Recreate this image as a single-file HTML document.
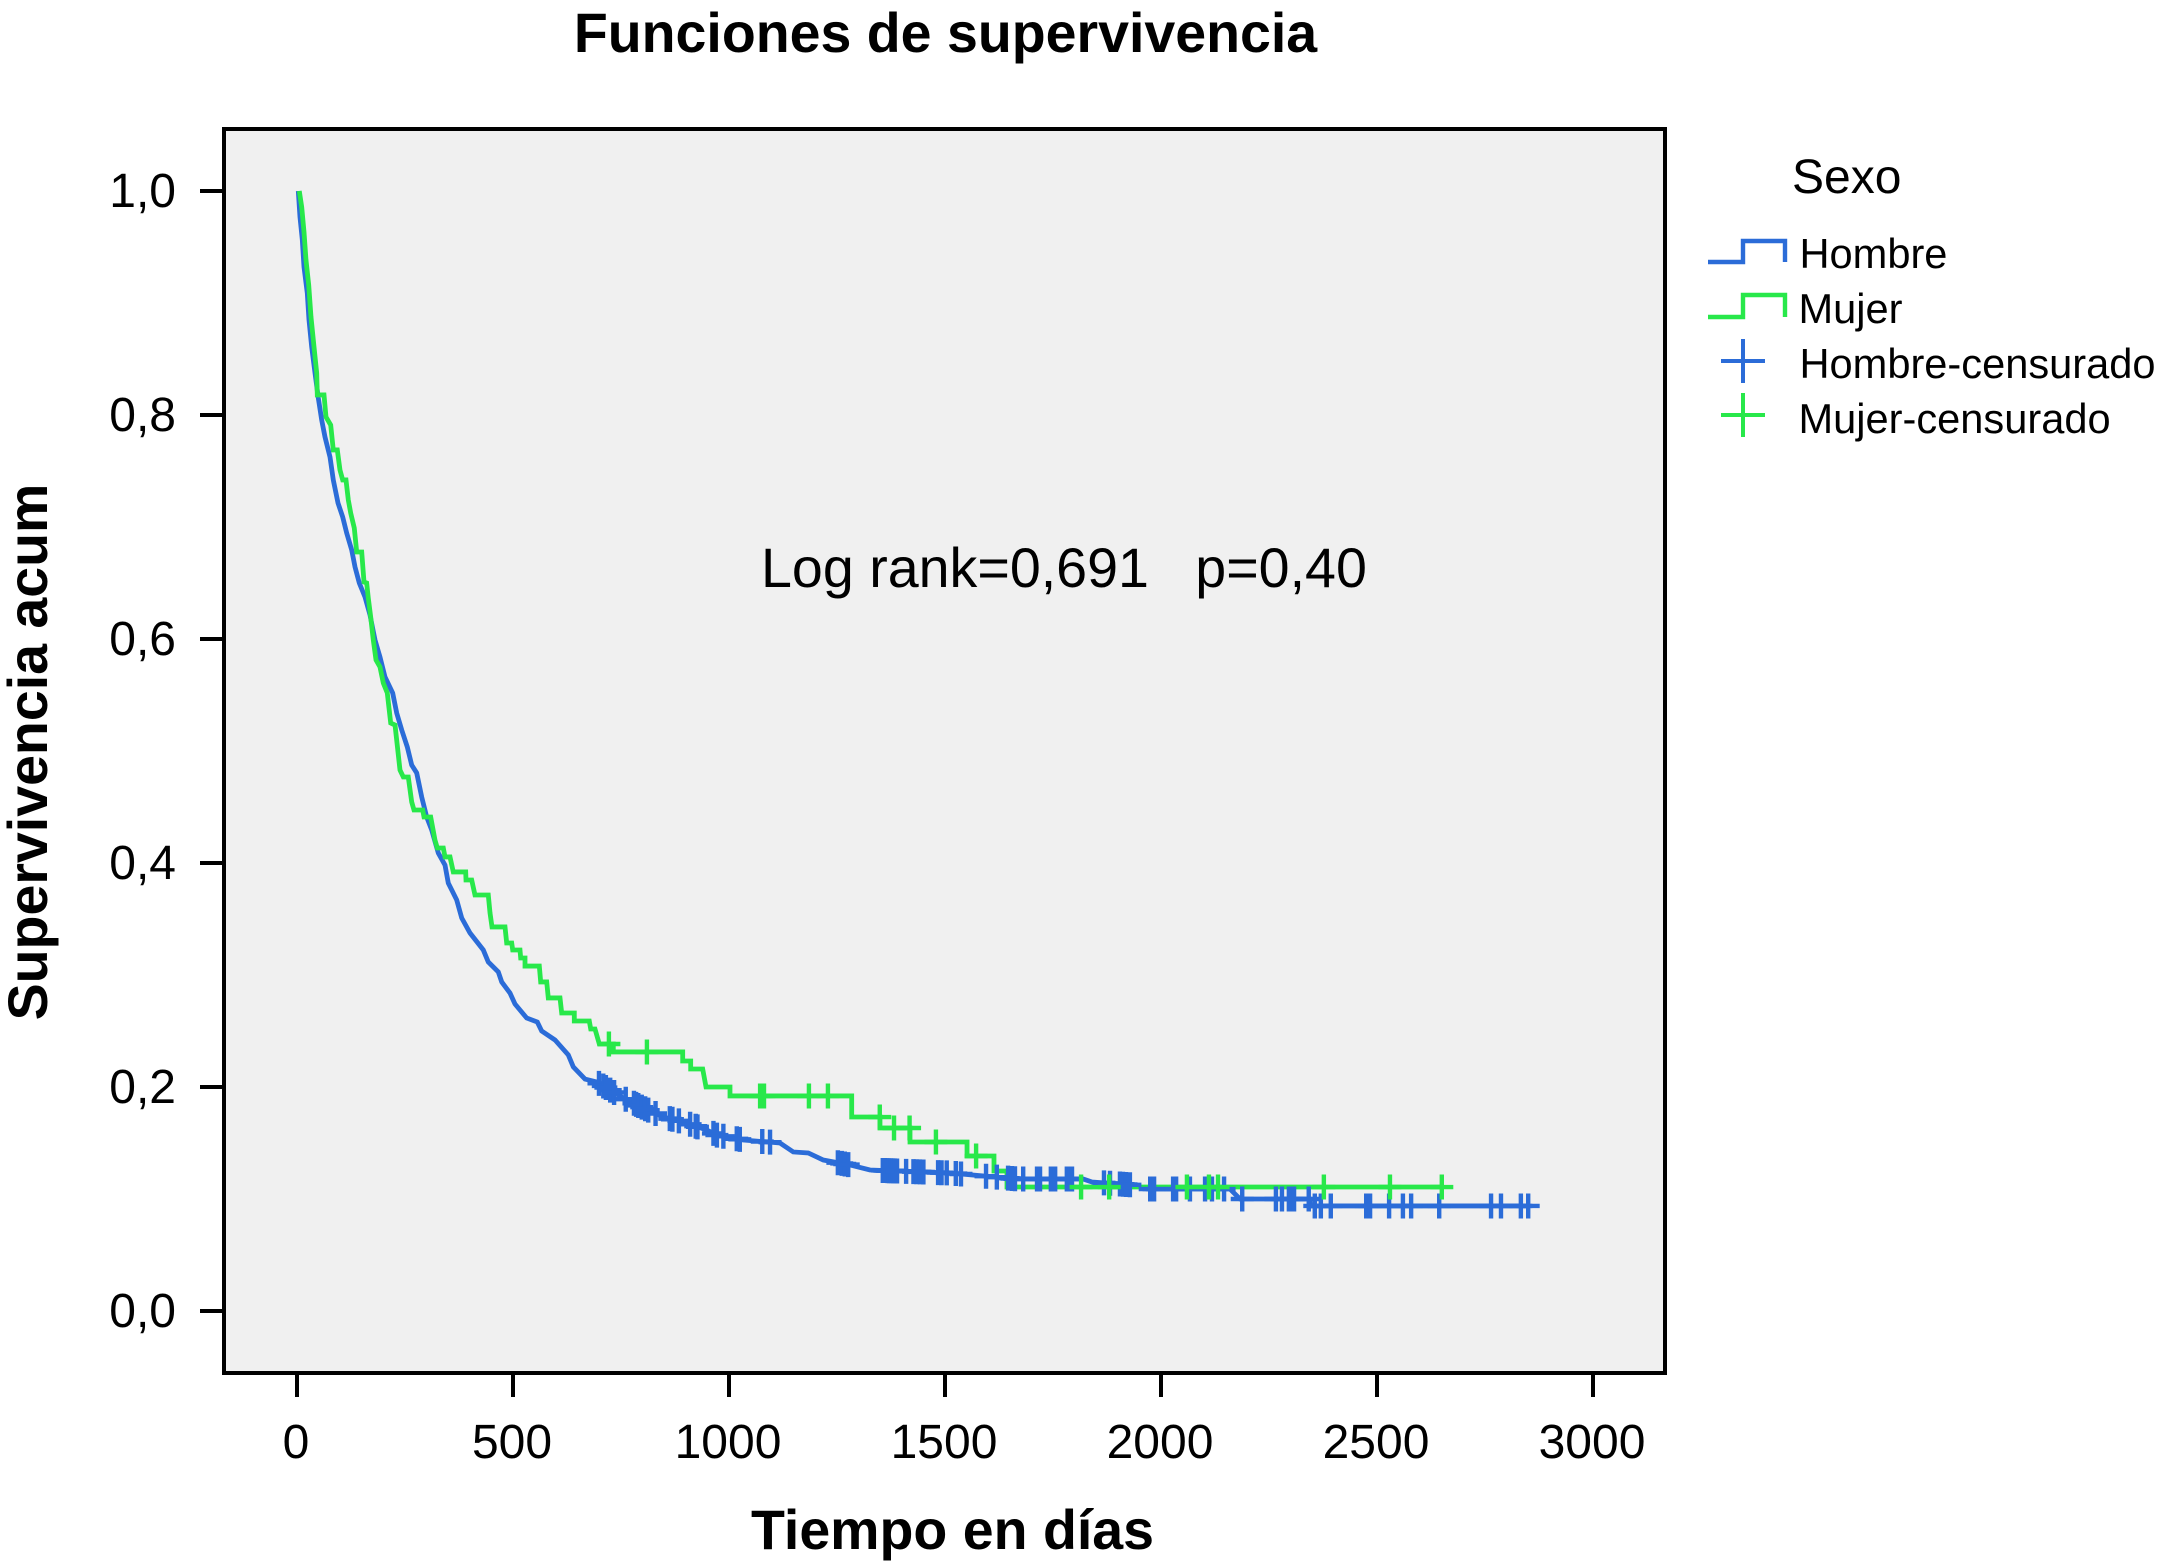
<!DOCTYPE html>
<html lang="es">
<head>
<meta charset="utf-8">
<title>Funciones de supervivencia</title>
<style>
html,body{margin:0;padding:0;background:#fff;}
svg{display:block;}
text{font-family:"Liberation Sans",Arial,sans-serif;fill:#000;white-space:pre;}
</style>
</head>
<body>
<svg id="chart" xmlns="http://www.w3.org/2000/svg" width="2160" height="1562" viewBox="0 0 2160 1562">
  <rect x="0" y="0" width="2160" height="1562" fill="#ffffff"/>
  <text x="945.5" y="52" font-size="55.5" font-weight="bold" text-anchor="middle">Funciones de supervivencia</text>
  <rect x="224" y="129" width="1441" height="1244" fill="#f0f0f0" stroke="#000" stroke-width="4"/>
  <g id="axes"></g>
  <g id="series"></g>
  <text x="761" y="587" font-size="55.6">Log rank=0,691   p=0,40</text>
  <text x="952.5" y="1549" font-size="55.5" font-weight="bold" text-anchor="middle">Tiempo en días</text>
  <text transform="translate(47 752) rotate(-90)" font-size="55.5" font-weight="bold" text-anchor="middle">Supervivencia acum</text>

  <g>
    <text x="1792" y="193" font-size="48">Sexo</text>
    <path d="M1708 262H1743V241H1785V262" fill="none" stroke="#2b6cd8" stroke-width="4.4"/>
    <text x="1799.5" y="268" font-size="41.6">Hombre</text>
    <path d="M1708 317H1743V295H1785V317" fill="none" stroke="#28e84a" stroke-width="4.4"/>
    <text x="1798.5" y="323" font-size="41.6">Mujer</text>
    <path d="M1721 361H1765M1743 339V383" fill="none" stroke="#2b6cd8" stroke-width="4"/>
    <text x="1799.5" y="378" font-size="41.6">Hombre-censurado</text>
    <path d="M1721 415H1765M1743 393V437" fill="none" stroke="#28e84a" stroke-width="4"/>
    <text x="1798.5" y="433" font-size="41.6">Mujer-censurado</text>
  </g>
</svg>
<script>
const xTicks = [0, 500, 1000, 1500, 2000, 2500, 3000];
const yTicks = [0, 0.2, 0.4, 0.6, 0.8, 1.0];
const yTickLabels = ['0,0', '0,2', '0,4', '0,6', '0,8', '1,0'];

const hombreDays = [3,6.9,12.3,16.2,23.8,27.8,34,41.7,49.3,57.2,64.8,76.4,84,94.9,105.8,115,126.6,134.3,144.2,157.4,169,180.6,192.1,203.7,221.5,230.8,242.4,255.3,265.5,277.1,288.7,300.2,311.8,327.1,342.6,350.2,369.7,381.3,400.5,431.3,442.8,466,473.9,493,504.6,531.7,556.3,566.4,597.2,628,639.6,666.7,693.8,724.5,755.3,801.6,847.9,894.2,948.4,971.5,1033.1,1118,1148.8,1183.6,1218.3,1280,1326.4,1511.6,1666.7,1819.4,1840.3,1935.2,1967.6,2159.7,2182.9,2343.8,2347.2,2849.6];
const hombreSurv = [1,0.9768,0.9563,0.9321,0.9089,0.8848,0.8607,0.8375,0.8152,0.7955,0.7804,0.7625,0.742,0.7214,0.7089,0.6946,0.6795,0.6643,0.65,0.6375,0.6214,0.5991,0.5839,0.5661,0.5518,0.5339,0.5188,0.5036,0.4875,0.4804,0.4589,0.4411,0.4295,0.4089,0.3982,0.3821,0.367,0.3509,0.3375,0.3223,0.3116,0.3027,0.2938,0.2839,0.2741,0.2616,0.258,0.25,0.242,0.2286,0.2179,0.2071,0.2045,0.1973,0.1902,0.1813,0.1732,0.1688,0.1616,0.1571,0.1527,0.15,0.142,0.1411,0.1348,0.1304,0.1259,0.1232,0.1179,0.1179,0.1152,0.1125,0.1089,0.1089,0.1,0.1,0.0938,0.0938];

const mujerDays = [5.3,10.9,16.2,20.8,27.1,32.4,39.4,45.6,47,62.5,67.1,78,84,93.3,99.5,105.8,113.4,118.8,124.3,132.6,138.2,149.8,155.1,161.3,165,170.6,176.6,182.9,192.1,199.8,209,216.9,226.9,238.4,246.1,257.6,265.5,270.8,291,294,309.5,319.4,324.8,338.7,342.6,354.2,361.8,390.5,391.2,404.4,412,442.8,446.8,451.4,481.5,485.4,497,499.3,516.2,517.8,527.8,527.8,560.9,564.1,578,581.7,608.8,612.7,641.9,641.9,676.6,679.9,689.8,699.8,732.2,732.2,892.8,892.8,911.3,911.3,939.1,946.8,1002.3,1002.3,1284,1284,1349.5,1349.5,1419,1419,1551,1551,1613.4,1613.4,1643.5,1643.5,2650.5];
const mujerSurv = [1,0.9857,0.9634,0.9384,0.9161,0.8875,0.8607,0.8375,0.8179,0.8179,0.7982,0.7911,0.7688,0.7688,0.7509,0.742,0.742,0.7241,0.7125,0.6991,0.6777,0.6777,0.6509,0.65,0.6366,0.6196,0.5991,0.5813,0.575,0.5607,0.5518,0.525,0.5232,0.483,0.4768,0.4768,0.4545,0.4473,0.4473,0.4411,0.4411,0.4205,0.4134,0.4134,0.4054,0.4054,0.392,0.392,0.3848,0.3848,0.3714,0.3714,0.3554,0.3429,0.3429,0.3286,0.3286,0.3223,0.3223,0.3152,0.3152,0.308,0.308,0.2938,0.2938,0.2795,0.2795,0.2661,0.2661,0.2589,0.2589,0.2518,0.2518,0.2384,0.2384,0.2313,0.2313,0.2232,0.2232,0.2161,0.2161,0.2,0.2,0.192,0.192,0.1732,0.1732,0.1634,0.1634,0.1509,0.1509,0.1384,0.1384,0.125,0.125,0.1107,0.1107];

const hombreCensored = [699,709,715,725,734,761,780,785,790,798,806,813,830,863,869,884,910,923,927,964,972,987,1018,1025,1077,1095,1252,1261,1268,1276,1356,1361,1366,1370,1375,1380,1384,1389,1410,1427,1434,1442,1450,1484,1492,1504,1525,1537,1595,1620,1646,1655,1662,1681,1713,1720,1745,1755,1782,1789,1794,1868,1882,1905,1912,1919,1928,1975,1984,2028,2035,2067,2102,2118,2146,2188,2266,2280,2296,2303,2308,2342,2356,2370,2393,2475,2484,2528,2560,2579,2644,2764,2787,2833,2850];
const mujerCensored = [722,810,1072,1076,1081,1185,1229,1349,1382,1418,1479,1572,1815,1880,2060,2111,2132,2377,2530,2650];

const SVGNS = 'http://www.w3.org/2000/svg';
const BLUE = '#2b6cd8';
const GREEN = '#28e84a';

function xScale(day) { return 297 + day * 0.432; }
function yScale(surv) { return 1311 - surv * 1120; }

function make(tag, attrs, parent) {
  const el = document.createElementNS(SVGNS, tag);
  for (const k in attrs) el.setAttribute(k, attrs[k]);
  parent.appendChild(el);
  return el;
}

function survivalAt(days, surv, day) {
  for (let i = days.length - 1; i >= 0; i--) {
    if (days[i] <= day) {
      if (i === days.length - 1 || days[i + 1] === days[i]) return surv[i];
      const f = (day - days[i]) / (days[i + 1] - days[i]);
      return surv[i] + (surv[i + 1] - surv[i]) * f;
    }
  }
  return surv[0];
}

function drawCurve(days, surv, color, parent, name) {
  let d = '';
  for (let i = 0; i < days.length; i++) {
    d += (i ? 'L' : 'M') + xScale(days[i]).toFixed(2) + ' ' + yScale(surv[i]).toFixed(2);
  }
  const path = make('path', { d: d, fill: 'none', stroke: color, 'stroke-width': 4.8, 'stroke-linejoin': 'miter' }, parent);
  
  
}

function drawCensored(censored, days, surv, color, parent, name) {
  censored.forEach(function (day) {
    const cx = xScale(day);
    const cy = yScale(survivalAt(days, surv, day));
    const mark = make('path', {
      d: 'M' + (cx - 11.5).toFixed(2) + ' ' + cy.toFixed(2) + 'h23M' + cx.toFixed(2) + ' ' + (cy - 12.5).toFixed(2) + 'v25',
      fill: 'none', stroke: color, 'stroke-width': 4.4
    }, parent);
    
    
  });
}

const axes = document.getElementById('axes');
xTicks.forEach(function (value) {
  const px = xScale(value);
  const tick = make('line', { x1: px, x2: px, y1: 1373, y2: 1397, stroke: '#000', 'stroke-width': 4 }, axes);
  
  
  const label = make('text', { x: px - 1, y: 1458, 'font-size': 48, 'text-anchor': 'middle' }, axes);
  
  
  label.textContent = String(value);
});
yTicks.forEach(function (value, i) {
  const py = yScale(value);
  const tick = make('line', { x1: 200, x2: 224, y1: py, y2: py, stroke: '#000', 'stroke-width': 4 }, axes);
  
  
  const label = make('text', { x: 176, y: py + 16, 'font-size': 48, 'text-anchor': 'end' }, axes);
  
  
  label.textContent = yTickLabels[i];
});

const series = document.getElementById('series');
drawCurve(hombreDays, hombreSurv, BLUE, series, 'hombre-survival-line');
drawCurve(mujerDays, mujerSurv, GREEN, series, 'mujer-survival-line');
drawCensored(hombreCensored, hombreDays, hombreSurv, BLUE, series, 'hombre-censored-mark');
drawCensored(mujerCensored, mujerDays, mujerSurv, GREEN, series, 'mujer-censored-mark');
</script>
</body>
</html>
